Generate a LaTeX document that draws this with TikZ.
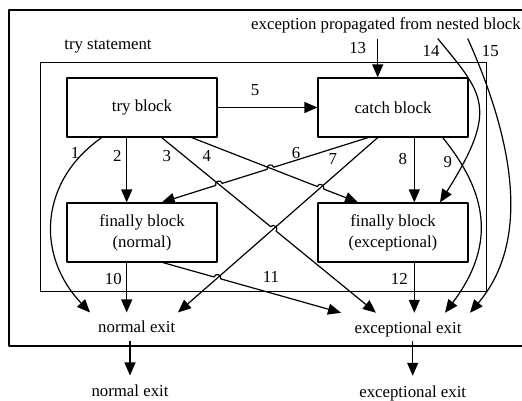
\documentclass[tikz,border=0pt]{standalone}
\usepackage{fontspec}
\setmainfont{Liberation Serif}
\usetikzlibrary{arrows.meta,calc}

\tikzset{
	blk/.style={draw, minimum width=150pt, minimum height=59pt, align=center},
	exitlbl/.style={anchor=base, inner sep=8pt},
}

\begin{document}
\begin{tikzpicture}[x=1pt, y=-1pt, >={Triangle[length=13pt,width=11pt]}, line width=1.2pt, line join=round, font=\fontsize{16.8}{21}\selectfont]
	\useasboundingbox (0,0) rectangle (522,400);
	\clip (0,0) rectangle (522,400);
	\draw (9,10) rectangle (540,346);
	\draw[line width=1pt] (40.7,62.3) rectangle (486,291.7);
	\node (stmt) at (108,46.7) {try statement};
	\node[anchor=base, inner sep=5pt] (prop) at (386,29.3) {exception propagated from nested block};
	% blocks
	\node[blk] (try) at (142,107.5) {try block};
	\node[blk] (catch) at (393,107.5) {catch block};
	\node[blk] (fin) at (142,232.5) {finally block\\(normal)};
	\node[blk] (fex) at (393,232.5) {finally block\\(exceptional)};
	% exits
	\node[exitlbl] (nexit) at (136.7,332.7) {normal exit};
	\node[exitlbl] (eexit) at (408,333) {exceptional exit};
	\node[exitlbl, inner sep=9pt] (nout) at (130,396.7) {normal exit};
	\node[exitlbl, inner sep=9pt] (eout) at (412.7,397) {exceptional exit};
	% end points
	\coordinate (a1) at ($(try.south)+(-40.3,0)$);
	\coordinate (b1) at ($(nexit.north)+(-46.7,0)$);
	\coordinate (a2) at ($(try.south)+(-15.3,0)$);
	\coordinate (b2) at ($(fin.north)+(-15.3,0)$);
	\coordinate (a3) at ($(try.south)+(19.7,0)$);
	\coordinate (b3) at ($(eexit.north)+(-32,0)$);
	\coordinate (a4) at ($(try.south)+(49.7,0)$);
	\coordinate (b4) at ($(fex.north)+(-35,0)$);
	\coordinate (a6) at ($(catch.south)+(-25,0)$);
	\coordinate (b6) at ($(fin.north)+(19.7,0)$);
	\coordinate (a7) at ($(catch.south)+(-15.3,0)$);
	\coordinate (b7) at ($(nexit.north)+(41.3,0)$);
	\coordinate (a8) at ($(catch.south)+(21.3,0)$);
	\coordinate (b8) at ($(fex.north)+(21.3,0)$);
	\coordinate (a9) at ($(catch.south)+(49.7,0)$);
	\coordinate (b9) at ($(eexit.north)+(37,0)$);
	\coordinate (a10) at ($(fin.south)+(-15.3,0)$);
	\coordinate (b10) at (a10 |- nexit.north);
	\coordinate (a11) at ($(fin.south)+(21,0)$);
	\coordinate (b11) at ($(eexit.north)+(-67,0)$);
	\coordinate (a12) at ($(fex.south)+(21.3,0)$);
	\coordinate (b12) at (a12 |- eexit.north);
	\coordinate (b13) at ($(catch.north)+(-15.3,0)$);
	\coordinate (a13) at (b13 |- prop.south);
	\coordinate (a14) at ($(prop.south)+(51.7,0)$);
	\coordinate (b14) at ($(fex.north)+(47,0)$);
	\coordinate (a15) at ($(prop.south)+(81.7,0)$);
	\coordinate (b15) at ($(eexit.north)+(62,0)$);
	% crossings (line hops)
	\coordinate (x64) at (intersection of a6--b6 and a4--b4);
	\coordinate (x63) at (intersection of a6--b6 and a3--b3);
	\coordinate (x47) at (intersection of a4--b4 and a7--b7);
	\coordinate (x37) at (intersection of a3--b3 and a7--b7);
	\coordinate (x117) at (intersection of a11--b11 and a7--b7);
	% connectors
	\draw[->] (a1) .. controls +(-61.7,43) and +(-55,-58) .. (b1);
	\draw[->] (a2) -- (b2);
	\draw[->] (a3) -- ($(x37)!3.5pt!(a3)$)
		.. controls ($(x37)!3.5pt!(a3)!4.5pt!90:(x37)$) and ($(x37)!3.5pt!(b3)!4.5pt!-90:(x37)$) .. ($(x37)!3.5pt!(b3)$) -- (b3);
	\draw[->] (a4) -- ($(x47)!3.5pt!(a4)$)
		.. controls ($(x47)!3.5pt!(a4)!4.5pt!90:(x47)$) and ($(x47)!3.5pt!(b4)!4.5pt!-90:(x47)$) .. ($(x47)!3.5pt!(b4)$) -- (b4);
	\draw[->] (try.east) -- (catch.west);
	\draw[->] (a6) -- ($(x64)!3.5pt!(a6)$)
		.. controls ($(x64)!3.5pt!(a6)!4.5pt!-90:(x64)$) and ($(x64)!3.5pt!(b6)!4.5pt!90:(x64)$) .. ($(x64)!3.5pt!(b6)$)
		-- ($(x63)!3.5pt!(a6)$)
		.. controls ($(x63)!3.5pt!(a6)!4.5pt!-90:(x63)$) and ($(x63)!3.5pt!(b6)!4.5pt!90:(x63)$) .. ($(x63)!3.5pt!(b6)$) -- (b6);
	\draw[->] (a7) -- (b7);
	\draw[->] (a8) -- (b8);
	\draw[->] (a9) .. controls +(43,53) and +(53,-70) .. (b9);
	\draw[->] (a10) -- (b10);
	\draw[->] (a11) -- ($(x117)!3.5pt!(a11)$)
		.. controls ($(x117)!3.5pt!(a11)!4.5pt!90:(x117)$) and ($(x117)!3.5pt!(b11)!4.5pt!-90:(x117)$) .. ($(x117)!3.5pt!(b11)$) -- (b11);
	\draw[->] (a12) -- (b12);
	\draw[->] (a13) -- (b13);
	\draw[->] (a14) .. controls +(45,55) and +(60,-95) .. (b14);
	\draw[->] (a15) .. controls +(45,100) and +(62,-73) .. (b15);
	\draw[->] (nout.north |- nexit.south) -- (nout.north);
	\draw[->] (eout.north |- nexit.south) -- (eout.north);
	% numbers
	\foreach \n/\x/\y in {1/75/153, 2/117.3/156, 3/166.7/156, 4/206.7/156, 5/255/90, 6/296/152.7, 7/332.7/159.3, 8/402.7/159.3, 9/447.7/161.7, 10/113.3/279.3, 11/271/277, 12/399.3/279.3, 13/357.7/48.3, 14/431/50.7, 15/490.3/50.7} {
		\node (lbl\n) at (\x,\y) {\n};
	}
\end{tikzpicture}
\end{document}
